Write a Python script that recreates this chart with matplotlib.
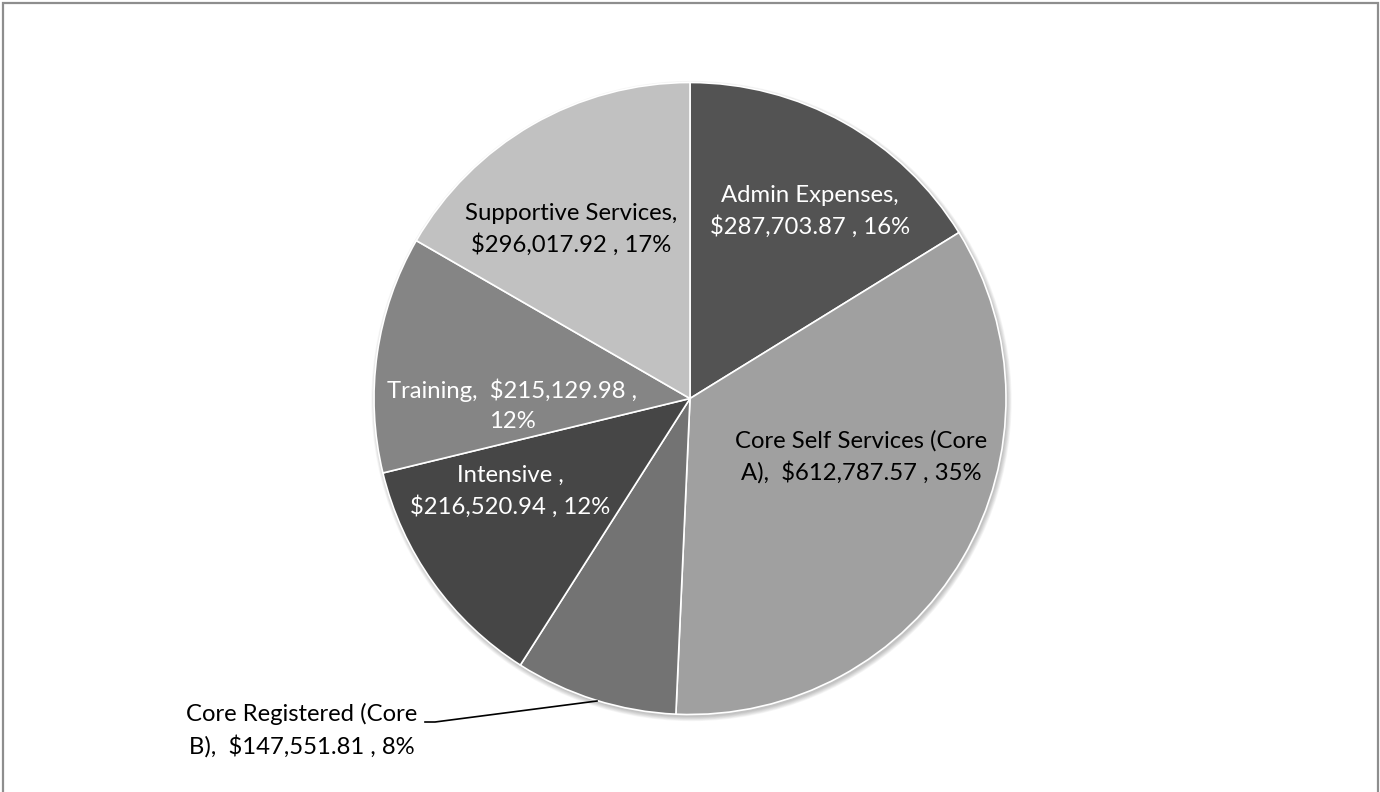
import numpy as np
import matplotlib.pyplot as plt
from matplotlib.patches import Circle, Rectangle

# spending by category, clockwise from 12 o'clock
categories = ["Admin Expenses", "Core Self Services (Core\nA)", "Core Registered (Core\nB)",
              "Intensive ", "Training", "Supportive Services"]
amounts = [287703.87, 612787.57, 147551.81, 216520.94, 215129.98, 296017.92]

colors = ["#535353", "#a0a0a0", "#737373", "#464646", "#858585", "#c1c1c1"]
text_colors = ["white", "black", "black", "white", "white", "black"]

# how each label wraps: separator after the name, separator after the amount
sep_name = [",\n", ",  ", ",  ", ",\n", ",  ", ",\n"]
sep_value = [" , ", " , ", " , ", " , ", " ,\n", " , "]

# label centres in pixels (x, y from top)
label_pos = [(810, 211), (861, 457), (302, 730), (510, 491), (512, 405), (571, 229)]

W, H = 1380, 792
cx, cy, r = 690, H - 398.5, 316

plt.rcParams['font.family'] = ['Lato', 'DejaVu Sans']

fig = plt.figure(figsize=(W / 100, H / 100), dpi=100)
ax = fig.add_axes([0, 0, 1, 1])

# soft shadow under the pie
for i in range(7):
    ax.add_patch(Circle((cx + 1.5, cy - 2.5), r + 0.7 * i, color='black',
                        alpha=0.035, lw=0, zorder=0))

wedges, _ = ax.pie(amounts, colors=colors, startangle=90, counterclock=False,
                   center=(cx, cy), radius=r,
                   wedgeprops=dict(edgecolor='white', linewidth=1.2))

total = sum(amounts)
for i, (name, val) in enumerate(zip(categories, amounts)):
    pct = 100 * val / total
    txt = f"{name}{sep_name[i]}${val:,.2f}{sep_value[i]}{pct:.0f}%"
    x, y = label_pos[i]
    ax.text(x, H - y, txt, ha='center', va='center', fontsize=17.2,
            color=text_colors[i], linespacing=1.5, zorder=5)

# leader line for the small outside label
ax.plot([425, 435, 597], [H - 722, H - 722, H - 701], color='black', lw=1.2, zorder=5)

# chart area border
ax.add_patch(Rectangle((3, -10), W - 5, H - 3 + 10, fill=False,
                       edgecolor='#8e8e8e', lw=1.6, zorder=6))

ax.set_xlim(0, W)
ax.set_ylim(0, H)
ax.set_aspect('auto')
ax.axis('off')

fig.savefig("out.png", dpi=100)
